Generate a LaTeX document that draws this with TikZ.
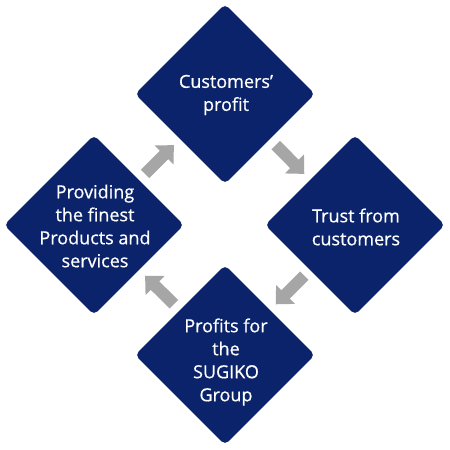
\documentclass[tikz,border=0pt]{standalone}
\usepackage{fontspec}
\setmainfont{Open Sans}
\newfontfamily\labelfont[FakeBold=0.6]{Open Sans}
\usetikzlibrary{shapes.geometric,arrows.meta,calc}
\definecolor{navy}{RGB}{11,35,106}
\definecolor{arrgray}{RGB}{166,166,166}
\begin{document}
\begin{tikzpicture}[x=1pt,y=-1pt,
  dia/.style={diamond,aspect=1,fill=navy,minimum width=180pt,minimum height=180pt,inner sep=0pt,rounded corners=5pt},
  txt/.style={text=white,align=center,font=\labelfont\fontsize{18pt}{23pt}\selectfont,inner sep=0pt},
  arr/.style={draw=arrgray,line width=12pt,-{Triangle[width=26pt,length=14pt]}}]
\useasboundingbox[fill=white] (0,0) rectangle (450,450);
\node[dia] (top) at (225,94) {};
\node[dia] (right) at (355,225) {};
\node[dia] (bottom) at (225,355) {};
\node[dia] (left) at (94,225) {};
\node[txt] (ttop) at (226,95) {Customers’\\profit};
\node[txt] (tright) at (356,227) {Trust from\\customers};
\node[txt] (tbottom) at (226,362) {Profits for\\the\\SUGIKO\\Group};
\node[txt] (tleft) at (95,226) {Providing\\the finest\\Products and\\services};
\draw[arr] ($(top)!0.39!(right)$) -- ($(top)!0.61!(right)$);
\draw[arr] ($(right)!0.39!(bottom)$) -- ($(right)!0.61!(bottom)$);
\draw[arr] ($(bottom)!0.39!(left)$) -- ($(bottom)!0.61!(left)$);
\draw[arr] ($(left)!0.39!(top)$) -- ($(left)!0.61!(top)$);
\end{tikzpicture}
\end{document}
